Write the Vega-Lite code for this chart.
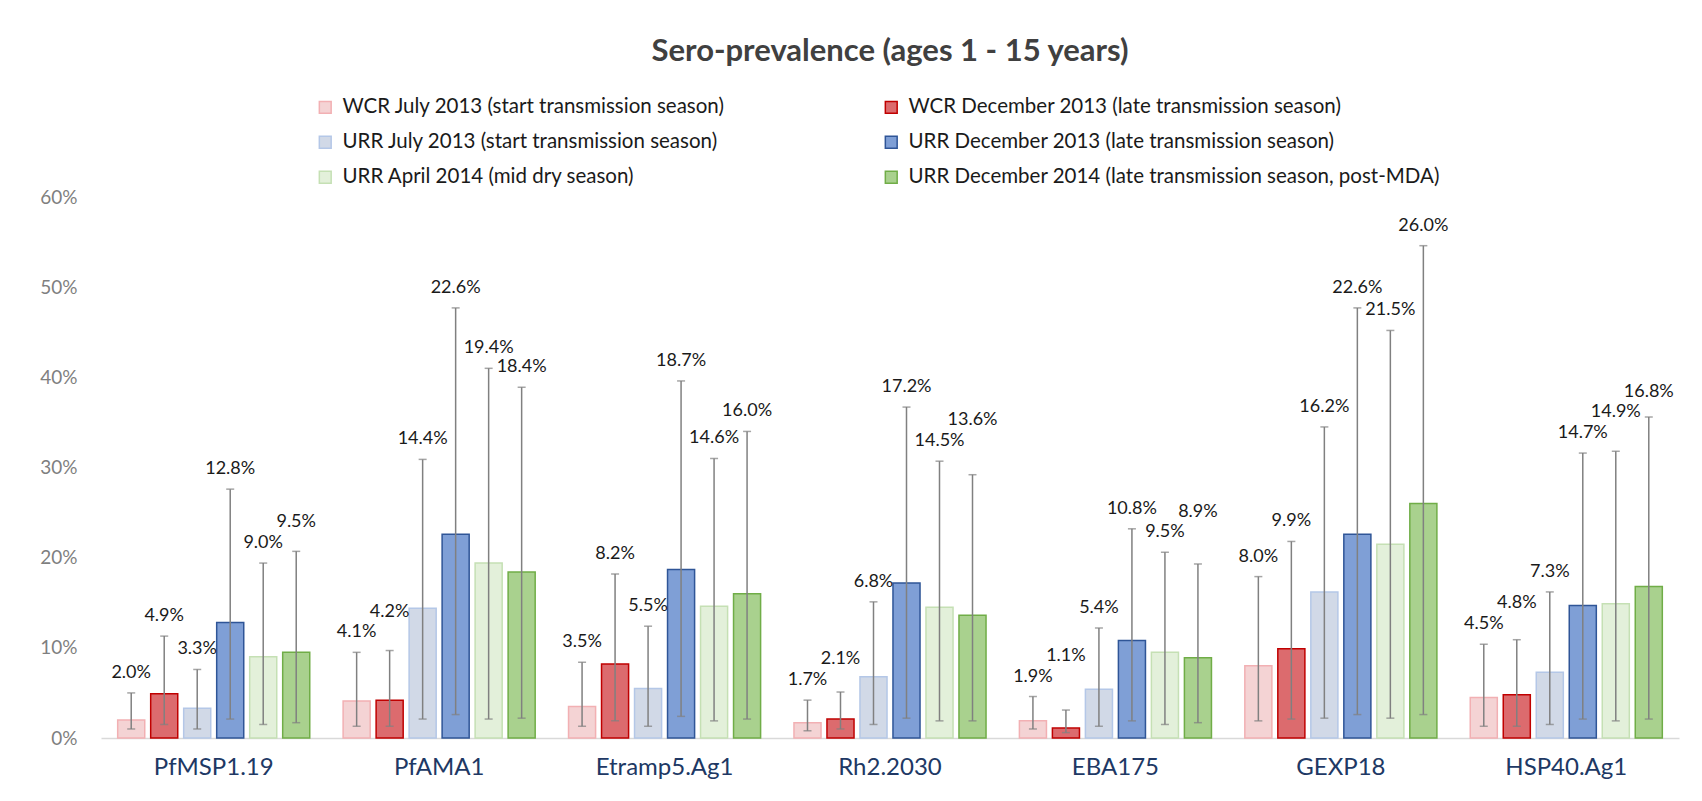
{
  "$schema": "https://vega.github.io/schema/vega-lite/v6.json",
  "width": 1578,
  "height": 541,
  "autosize": {"type": "none"},
  "padding": {"left": 101, "top": 197, "right": 23, "bottom": 63},
  "background": "white",
  "config": {"view": {"stroke": null}, "font": "Lato"},
  "title": {"text": "Sero-prevalence (ages 1 - 15 years)", "fontSize": 31, "font": "Lato", "fontWeight": "bold", "color": "#404040", "anchor": "middle", "offset": 29},
  "data": {"values": [
    {"antigen": "PfMSP1.19", "series": "WCR July 2013 (start transmission season)", "value": 0.020, "lower": 0.010, "upper": 0.050},
    {"antigen": "PfMSP1.19", "series": "WCR December 2013 (late transmission season)", "value": 0.049, "lower": 0.015, "upper": 0.113},
    {"antigen": "PfMSP1.19", "series": "URR July 2013 (start transmission season)", "value": 0.033, "lower": 0.010, "upper": 0.076},
    {"antigen": "PfMSP1.19", "series": "URR December 2013 (late transmission season)", "value": 0.128, "lower": 0.021, "upper": 0.276},
    {"antigen": "PfMSP1.19", "series": "URR April 2014 (mid dry season)", "value": 0.090, "lower": 0.015, "upper": 0.194},
    {"antigen": "PfMSP1.19", "series": "URR December 2014 (late transmission season, post-MDA)", "value": 0.095, "lower": 0.017, "upper": 0.207},
    {"antigen": "PfAMA1", "series": "WCR July 2013 (start transmission season)", "value": 0.041, "lower": 0.013, "upper": 0.095},
    {"antigen": "PfAMA1", "series": "WCR December 2013 (late transmission season)", "value": 0.042, "lower": 0.013, "upper": 0.097},
    {"antigen": "PfAMA1", "series": "URR July 2013 (start transmission season)", "value": 0.144, "lower": 0.021, "upper": 0.309},
    {"antigen": "PfAMA1", "series": "URR December 2013 (late transmission season)", "value": 0.226, "lower": 0.026, "upper": 0.477},
    {"antigen": "PfAMA1", "series": "URR April 2014 (mid dry season)", "value": 0.194, "lower": 0.021, "upper": 0.410},
    {"antigen": "PfAMA1", "series": "URR December 2014 (late transmission season, post-MDA)", "value": 0.184, "lower": 0.022, "upper": 0.389},
    {"antigen": "Etramp5.Ag1", "series": "WCR July 2013 (start transmission season)", "value": 0.035, "lower": 0.013, "upper": 0.084},
    {"antigen": "Etramp5.Ag1", "series": "WCR December 2013 (late transmission season)", "value": 0.082, "lower": 0.019, "upper": 0.182},
    {"antigen": "Etramp5.Ag1", "series": "URR July 2013 (start transmission season)", "value": 0.055, "lower": 0.013, "upper": 0.124},
    {"antigen": "Etramp5.Ag1", "series": "URR December 2013 (late transmission season)", "value": 0.187, "lower": 0.024, "upper": 0.396},
    {"antigen": "Etramp5.Ag1", "series": "URR April 2014 (mid dry season)", "value": 0.146, "lower": 0.019, "upper": 0.310},
    {"antigen": "Etramp5.Ag1", "series": "URR December 2014 (late transmission season, post-MDA)", "value": 0.160, "lower": 0.021, "upper": 0.340},
    {"antigen": "Rh2.2030", "series": "WCR July 2013 (start transmission season)", "value": 0.017, "lower": 0.008, "upper": 0.042},
    {"antigen": "Rh2.2030", "series": "WCR December 2013 (late transmission season)", "value": 0.021, "lower": 0.010, "upper": 0.051},
    {"antigen": "Rh2.2030", "series": "URR July 2013 (start transmission season)", "value": 0.068, "lower": 0.015, "upper": 0.151},
    {"antigen": "Rh2.2030", "series": "URR December 2013 (late transmission season)", "value": 0.172, "lower": 0.022, "upper": 0.367},
    {"antigen": "Rh2.2030", "series": "URR April 2014 (mid dry season)", "value": 0.145, "lower": 0.019, "upper": 0.307},
    {"antigen": "Rh2.2030", "series": "URR December 2014 (late transmission season, post-MDA)", "value": 0.136, "lower": 0.019, "upper": 0.292},
    {"antigen": "EBA175", "series": "WCR July 2013 (start transmission season)", "value": 0.019, "lower": 0.010, "upper": 0.046},
    {"antigen": "EBA175", "series": "WCR December 2013 (late transmission season)", "value": 0.011, "lower": 0.006, "upper": 0.031},
    {"antigen": "EBA175", "series": "URR July 2013 (start transmission season)", "value": 0.054, "lower": 0.013, "upper": 0.122},
    {"antigen": "EBA175", "series": "URR December 2013 (late transmission season)", "value": 0.108, "lower": 0.019, "upper": 0.232},
    {"antigen": "EBA175", "series": "URR April 2014 (mid dry season)", "value": 0.095, "lower": 0.015, "upper": 0.206},
    {"antigen": "EBA175", "series": "URR December 2014 (late transmission season, post-MDA)", "value": 0.089, "lower": 0.017, "upper": 0.193},
    {"antigen": "GEXP18", "series": "WCR July 2013 (start transmission season)", "value": 0.080, "lower": 0.019, "upper": 0.179},
    {"antigen": "GEXP18", "series": "WCR December 2013 (late transmission season)", "value": 0.099, "lower": 0.021, "upper": 0.218},
    {"antigen": "GEXP18", "series": "URR July 2013 (start transmission season)", "value": 0.162, "lower": 0.022, "upper": 0.345},
    {"antigen": "GEXP18", "series": "URR December 2013 (late transmission season)", "value": 0.226, "lower": 0.026, "upper": 0.477},
    {"antigen": "GEXP18", "series": "URR April 2014 (mid dry season)", "value": 0.215, "lower": 0.022, "upper": 0.452},
    {"antigen": "GEXP18", "series": "URR December 2014 (late transmission season, post-MDA)", "value": 0.260, "lower": 0.026, "upper": 0.546},
    {"antigen": "HSP40.Ag1", "series": "WCR July 2013 (start transmission season)", "value": 0.045, "lower": 0.013, "upper": 0.104},
    {"antigen": "HSP40.Ag1", "series": "WCR December 2013 (late transmission season)", "value": 0.048, "lower": 0.013, "upper": 0.109},
    {"antigen": "HSP40.Ag1", "series": "URR July 2013 (start transmission season)", "value": 0.073, "lower": 0.015, "upper": 0.162},
    {"antigen": "HSP40.Ag1", "series": "URR December 2013 (late transmission season)", "value": 0.147, "lower": 0.021, "upper": 0.316},
    {"antigen": "HSP40.Ag1", "series": "URR April 2014 (mid dry season)", "value": 0.149, "lower": 0.019, "upper": 0.318},
    {"antigen": "HSP40.Ag1", "series": "URR December 2014 (late transmission season, post-MDA)", "value": 0.168, "lower": 0.021, "upper": 0.356}
  ]},
  "encoding": {
    "x": {
      "field": "antigen", "type": "nominal",
      "sort": ["PfMSP1.19", "PfAMA1", "Etramp5.Ag1", "Rh2.2030", "EBA175", "GEXP18", "HSP40.Ag1"],
      "scale": {"paddingInner": 0.148, "paddingOuter": 0.074},
      "axis": {"title": null, "domain": true, "domainColor": "#d9d9d9", "domainWidth": 1.5, "ticks": false, "labelAngle": 0, "labelColor": "#203864", "labelFontSize": 24, "labelFont": "Lato", "labelPadding": 17}
    },
    "xOffset": {
      "field": "series", "type": "nominal",
      "sort": ["WCR July 2013 (start transmission season)", "WCR December 2013 (late transmission season)", "URR July 2013 (start transmission season)", "URR December 2013 (late transmission season)", "URR April 2014 (mid dry season)", "URR December 2014 (late transmission season, post-MDA)"],
      "scale": {"paddingInner": 0.18, "paddingOuter": 0}
    }
  },
  "layer": [
    {
      "mark": {"type": "bar", "strokeWidth": 1.5},
      "encoding": {
        "y": {
          "field": "value", "type": "quantitative",
          "scale": {"domain": [0, 0.6], "nice": false, "zero": true},
          "axis": {"title": null, "format": ".0%", "values": [0, 0.1, 0.2, 0.3, 0.4, 0.5, 0.6], "domain": false, "ticks": false, "grid": false, "labelColor": "#7f7f7f", "labelFontSize": 19, "labelFont": "Lato", "labelPadding": 24}
        },
        "fill": {
          "field": "series", "type": "nominal",
          "sort": ["WCR July 2013 (start transmission season)", "WCR December 2013 (late transmission season)", "URR July 2013 (start transmission season)", "URR December 2013 (late transmission season)", "URR April 2014 (mid dry season)", "URR December 2014 (late transmission season, post-MDA)"],
          "scale": {"range": ["#f4d3d4", "#dc6b6e", "#d1d9e7", "#7f9fd6", "#e3f0da", "#a9d18e"]},
          "legend": {
            "title": null, "orient": "none", "direction": "horizontal", "legendX": 214, "legendY": -100, "columns": 2, "columnPadding": 155, "rowPadding": 14,
            "symbolType": "square", "symbolSize": 140, "symbolStrokeWidth": 1.5,
            "labelFontSize": 20.5, "labelFont": "Lato", "labelColor": "#1a1a1a", "labelLimit": 700, "labelOffset": 7,
            "encode": {"symbols": {"update": {"fill": {"scale": "fill", "field": "value"}, "stroke": {"scale": "stroke", "field": "value"}, "strokeWidth": {"value": 1.5}}}}
          }
        },
        "stroke": {
          "field": "series", "type": "nominal",
          "sort": ["WCR July 2013 (start transmission season)", "WCR December 2013 (late transmission season)", "URR July 2013 (start transmission season)", "URR December 2013 (late transmission season)", "URR April 2014 (mid dry season)", "URR December 2014 (late transmission season, post-MDA)"],
          "scale": {"range": ["#f2b0b3", "#c00000", "#b4c7e7", "#2f5597", "#c5e0b4", "#70ad47"]},
          "legend": null
        }
      }
    },
    {
      "mark": {"type": "rule", "color": "#808080", "strokeWidth": 1.5},
      "encoding": {
        "y": {"field": "lower", "type": "quantitative"},
        "y2": {"field": "upper"}
      }
    },
    {
      "mark": {"type": "tick", "color": "#808080", "size": 8, "thickness": 1.5},
      "encoding": {"y": {"field": "lower", "type": "quantitative"}}
    },
    {
      "mark": {"type": "tick", "color": "#808080", "size": 8, "thickness": 1.5},
      "encoding": {"y": {"field": "upper", "type": "quantitative"}}
    },
    {
      "transform": [
        {"window": [{"op": "lag", "field": "upper", "as": "p1"}], "groupby": ["antigen"]},
        {"calculate": "datum.p1 != null && abs(datum.upper - datum.p1) < 0.02 ? max(datum.upper, datum.p1 + 0.023) : datum.upper", "as": "lab1"},
        {"window": [{"op": "lag", "field": "lab1", "as": "p2"}], "groupby": ["antigen"]},
        {"calculate": "datum.p2 != null && abs(datum.lab1 - datum.p2) < 0.02 ? max(datum.lab1, datum.p2 + 0.023) : datum.lab1", "as": "laby"}
      ],
      "mark": {"type": "text", "dy": -20, "baseline": "middle", "fontSize": 18, "font": "Lato", "color": "#1a1a1a"},
      "encoding": {
        "y": {"field": "laby", "type": "quantitative"},
        "text": {"field": "value", "type": "quantitative", "format": ".1%"}
      }
    }
  ]
}
